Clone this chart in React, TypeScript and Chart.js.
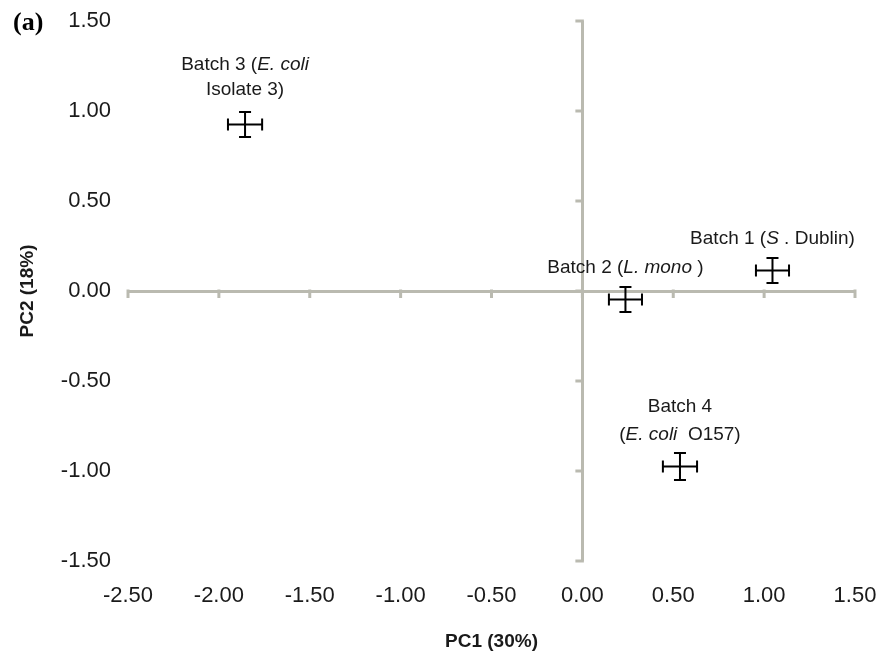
import React, { useEffect, useRef } from "react";
import { Chart, registerables } from "chart.js";

Chart.register(...registerables);

// ---------- data ----------
const categories = ["Batch 1", "Batch 2", "Batch 3", "Batch 4"];
const pc1Values = [1.046, 0.237, -1.856, 0.537];
const pc2Values = [0.114, -0.047, 0.925, -0.975];
const pc1Errors = [0.091, 0.091, 0.094, 0.094];
const pc2Errors = [0.069, 0.069, 0.069, 0.075];

const xAxisMin = -2.5;
const xAxisMax = 1.5;
const yAxisMin = -1.5;
const yAxisMax = 1.5;
const tickStep = 0.5;

const xTitle = "PC1 (30%)";
const yTitle = "PC2 (18%)";
const panelLabel = "(a)";

// label text: lines of [text, italic] segments
const pointLabels: [string, boolean][][][] = [
  [[["Batch 1 (", false], ["S", true], [" . Dublin)", false]]],
  [[["Batch 2 (", false], ["L. mono", true], [" )", false]]],
  [
    [["Batch 3 (", false], ["E. coli", true]],
    [["Isolate 3)", false]],
  ],
  [
    [["Batch 4", false]],
    [["(", false], ["E. coli", true], ["  O157)", false]],
  ],
];

// ---------- style ----------
const AXIS_COLOR = "rgb(186,186,176)";
const TEXT_COLOR = "#1a1a1a";
const FONT = "'Liberation Sans', Arial, sans-serif";
const LABEL_FONT_SIZE = 19;
const LABEL_LINE_OFFSETS = [[-32], [-32], [-59.5, -34.5], [-59.5, -31.5]];
const CAP = 6;

export default function App() {
  const canvasRef = useRef<HTMLCanvasElement | null>(null);

  useEffect(() => {
    if (!canvasRef.current) return;

    const zeroAxisTicks = {
      id: "zeroAxisTicks",
      beforeDatasetsDraw(chart: any) {
        const { ctx, scales } = chart;
        const x = scales.x;
        const y = scales.y;
        const x0 = x.getPixelForValue(0);
        const y0 = y.getPixelForValue(0);
        ctx.save();
        ctx.strokeStyle = AXIS_COLOR;
        ctx.lineWidth = 3;
        ctx.lineCap = "butt";
        for (const t of x.ticks) {
          const px = x.getPixelForValue(t.value);
          ctx.beginPath();
          ctx.moveTo(px, y0 - 1.5);
          ctx.lineTo(px, y0 + 7);
          ctx.stroke();
        }
        for (const t of y.ticks) {
          const py = y.getPixelForValue(t.value);
          ctx.beginPath();
          ctx.moveTo(x0 + 1.5, py);
          ctx.lineTo(x0 - 7, py);
          ctx.stroke();
        }
        ctx.restore();
      },
    };

    const errorBars = {
      id: "errorBars",
      afterDatasetsDraw(chart: any) {
        const { ctx, scales } = chart;
        const x = scales.x;
        const y = scales.y;
        ctx.save();
        ctx.strokeStyle = "#000";
        ctx.lineWidth = 2;
        for (let i = 0; i < categories.length; i++) {
          const px = x.getPixelForValue(pc1Values[i]);
          const py = y.getPixelForValue(pc2Values[i]);
          const xl = x.getPixelForValue(pc1Values[i] - pc1Errors[i]);
          const xr = x.getPixelForValue(pc1Values[i] + pc1Errors[i]);
          const yt = y.getPixelForValue(pc2Values[i] + pc2Errors[i]);
          const yb = y.getPixelForValue(pc2Values[i] - pc2Errors[i]);
          ctx.beginPath();
          ctx.moveTo(xl, py);
          ctx.lineTo(xr, py);
          ctx.moveTo(xl, py - CAP);
          ctx.lineTo(xl, py + CAP);
          ctx.moveTo(xr, py - CAP);
          ctx.lineTo(xr, py + CAP);
          ctx.moveTo(px, yt);
          ctx.lineTo(px, yb);
          ctx.moveTo(px - CAP, yt);
          ctx.lineTo(px + CAP, yt);
          ctx.moveTo(px - CAP, yb);
          ctx.lineTo(px + CAP, yb);
          ctx.stroke();
        }
        ctx.restore();
      },
    };

    const textLabels = {
      id: "textLabels",
      afterDraw(chart: any) {
        const { ctx, scales } = chart;
        const x = scales.x;
        const y = scales.y;
        ctx.save();
        ctx.fillStyle = TEXT_COLOR;
        ctx.textBaseline = "middle";
        ctx.textAlign = "left";
        const fontFor = (it: boolean) =>
          `${it ? "italic " : ""}${LABEL_FONT_SIZE}px ${FONT}`;
        for (let i = 0; i < categories.length; i++) {
          const px = x.getPixelForValue(pc1Values[i]);
          const py = y.getPixelForValue(pc2Values[i]);
          const lines = pointLabels[i];
          lines.forEach((segs, li) => {
            let total = 0;
            const widths = segs.map(([t, it]) => {
              ctx.font = fontFor(it);
              const w = ctx.measureText(t).width;
              total += w;
              return w;
            });
            let cx = px - total / 2;
            const ly = py + LABEL_LINE_OFFSETS[i][li];
            segs.forEach(([t, it], si) => {
              ctx.font = fontFor(it);
              ctx.fillText(t, cx, ly);
              cx += widths[si];
            });
          });
        }
        // panel label
        ctx.font = `bold 26px 'Liberation Serif', 'Times New Roman', serif`;
        ctx.fillStyle = "#000";
        ctx.fillText(panelLabel, 13, 23);
        ctx.restore();
      },
    };

    const chart = new Chart(canvasRef.current, {
      type: "scatter",
      data: {
        datasets: [
          {
            label: "Batches",
            data: categories.map((_, i) => ({ x: pc1Values[i], y: pc2Values[i] })),
            pointRadius: 0,
            pointHoverRadius: 0,
            showLine: false,
          },
        ],
      },
      options: {
        animation: false,
        responsive: true,
        maintainAspectRatio: false,
        layout: { padding: { top: 21, right: 26, left: 0, bottom: 0 } },
        plugins: {
          legend: { display: false },
          tooltip: { enabled: false },
        },
        scales: {
          x: {
            type: "linear",
            position: "bottom",
            min: xAxisMin,
            max: xAxisMax,
            afterFit: (s: any) => {
              s.height = 98;
              s.paddingLeft = 0;
              s.paddingRight = 0;
            },
            ticks: {
              stepSize: tickStep,
              padding: 22,
              color: TEXT_COLOR,
              font: { family: FONT, size: 22 },
              callback: (v: any) => Number(v).toFixed(2),
            },
            grid: {
              drawTicks: false,
              lineWidth: 3,
              color: (c: any) =>
                c.tick && Math.abs(c.tick.value) < 1e-9 ? AXIS_COLOR : "rgba(0,0,0,0)",
            },
            border: { display: false },
            title: {
              display: true,
              text: xTitle,
              color: TEXT_COLOR,
              font: { family: FONT, size: 19, weight: "bold" },
              padding: { top: 0, bottom: 6 },
            },
          },
          y: {
            type: "linear",
            position: "left",
            min: yAxisMin,
            max: yAxisMax,
            afterFit: (s: any) => {
              s.width = 128;
              s.paddingTop = 0;
              s.paddingBottom = 0;
            },
            ticks: {
              stepSize: tickStep,
              padding: 17,
              color: TEXT_COLOR,
              font: { family: FONT, size: 22 },
              callback: (v: any) => Number(v).toFixed(2),
            },
            grid: {
              drawTicks: false,
              lineWidth: 3,
              color: (c: any) =>
                c.tick && Math.abs(c.tick.value) < 1e-9 ? AXIS_COLOR : "rgba(0,0,0,0)",
            },
            border: { display: false },
            title: {
              display: true,
              text: yTitle,
              color: TEXT_COLOR,
              font: { family: FONT, size: 19, weight: "bold" },
              padding: { top: 16, bottom: 0 },
            },
          },
        },
      },
      plugins: [zeroAxisTicks, errorBars, textLabels],
    });

    return () => chart.destroy();
  }, []);

  return (
    <div
      style={{
        position: "fixed",
        left: 0,
        top: 0,
        width: 881,
        height: 659,
        background: "#fff",
      }}
    >
      <canvas ref={canvasRef} />
    </div>
  );
}
